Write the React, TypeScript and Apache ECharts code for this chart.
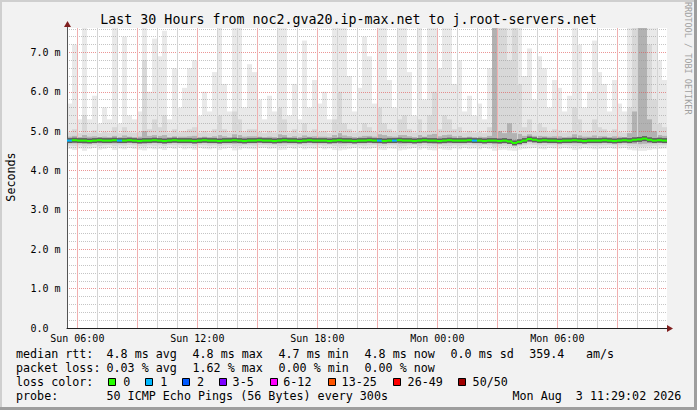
import React, { useEffect, useRef } from 'react';
import * as echarts from 'echarts';

const TITLE = 'Last 30 Hours from noc2.gva20.ip-max.net to j.root-servers.net';
const Y_AXIS_NAME = 'Seconds';
const WATERMARK = 'RRDTOOL / TOBI OETIKER';

// time axis in hours since Sun 00:00
const START_HOUR = 5 + 29 / 60 + 2 / 3600;
const SPAN_HOURS = 30;
const BIN_HOURS = 0.25;
const Y_MAX = 7.62;

const xTickHours = [6, 12, 18, 24, 30];
const xTickLabels = ['Sun 06:00', 'Sun 12:00', 'Sun 18:00', 'Mon 00:00', 'Mon 06:00'];
const majorGridHours = [6, 9, 12, 15, 18, 21, 24, 27, 30, 33];
const minorGridHours = [7, 8, 10, 11, 13, 14, 16, 17, 19, 20, 22, 23, 25, 26, 28, 29, 31, 32, 34, 35];
const yTickValues = [0, 1, 2, 3, 4, 5, 6, 7];
const yTickLabels = ['0.0', '1.0 m', '2.0 m', '3.0 m', '4.0 m', '5.0 m', '6.0 m', '7.0 m'];

// smoke: per 15-minute bin, in ms
const rttMax = [
  5.70, 7.20, 5.30, 7.62, 5.30, 5.90, 5.20, 5.60, 5.30, 7.62,
  5.20, 7.40, 5.40, 5.30, 5.50, 7.62, 6.00, 7.35, 6.90, 7.55,
  5.30, 6.60, 5.60, 6.10, 6.60, 6.80, 5.40, 6.00, 5.50, 6.50,
  7.62, 6.20, 5.50, 7.62, 7.62, 5.60, 6.70, 6.50, 5.80, 5.30,
  5.90, 5.50, 7.62, 7.62, 5.40, 6.20, 5.30, 7.30, 5.60, 6.30,
  5.70, 6.00, 5.30, 7.62, 7.62, 7.62, 6.40, 5.50, 6.10, 7.40,
  6.90, 5.70, 7.62, 7.62, 6.30, 5.60, 7.62, 7.62, 6.50, 5.40,
  7.62, 5.80, 7.62, 7.62, 6.60, 7.62, 7.62, 6.20, 6.80, 5.50,
  5.90, 5.40, 5.70, 5.30, 6.60, 7.62, 7.62, 7.62, 7.62, 7.62,
  7.62, 6.40, 7.10, 5.80, 6.90, 6.60, 5.60, 6.30, 6.10, 5.50,
  5.90, 7.62, 7.20, 5.60, 6.00, 7.30, 6.50, 6.20, 5.50, 6.30,
  5.70, 5.50, 7.62, 7.62, 7.62, 7.62, 7.62, 7.62, 6.80, 6.30,
];
const rttP90 = [
  4.97, 5.05, 4.95, 5.40, 4.96, 5.02, 4.95, 4.98, 4.96, 5.10,
  4.95, 5.10, 4.97, 4.96, 4.98, 6.80, 5.05, 5.30, 5.10, 5.40,
  4.96, 5.05, 4.97, 5.00, 5.05, 5.10, 4.96, 5.00, 4.96, 5.05,
  5.40, 5.05, 4.96, 5.50, 5.30, 4.97, 5.05, 5.05, 4.98, 4.95,
  5.00, 4.96, 5.60, 5.30, 4.96, 5.05, 4.95, 5.20, 4.97, 5.05,
  4.98, 5.00, 4.95, 5.30, 6.00, 5.20, 5.05, 4.96, 5.00, 5.20,
  5.10, 4.98, 5.60, 5.20, 5.05, 4.97, 5.30, 5.40, 5.05, 4.96,
  5.30, 4.98, 5.40, 6.00, 5.05, 5.40, 5.30, 5.05, 5.10, 4.96,
  5.00, 4.96, 4.98, 4.95, 5.10, 7.62, 7.62, 7.62, 6.80, 7.62,
  6.20, 5.10, 5.30, 4.99, 5.20, 5.10, 4.97, 5.05, 5.02, 4.96,
  5.00, 5.60, 5.30, 4.97, 5.00, 5.30, 5.10, 5.05, 4.96, 5.05,
  4.98, 4.96, 5.60, 7.62, 7.62, 7.62, 7.20, 5.80, 5.20, 5.10,
];
const rttP75 = [
  4.86, 4.88, 4.85, 4.90, 4.86, 4.87, 4.85, 4.86, 4.85, 4.88,
  4.85, 4.89, 4.86, 4.85, 4.86, 5.00, 4.88, 4.90, 4.88, 4.90,
  4.85, 4.87, 4.86, 4.86, 4.87, 4.88, 4.85, 4.86, 4.85, 4.87,
  4.90, 4.87, 4.85, 4.92, 4.90, 4.86, 4.87, 4.87, 4.86, 4.85,
  4.86, 4.85, 4.92, 4.90, 4.85, 4.87, 4.85, 4.89, 4.86, 4.87,
  4.86, 4.86, 4.85, 4.90, 4.95, 4.89, 4.87, 4.85, 4.86, 4.88,
  4.88, 4.86, 4.92, 4.90, 4.87, 4.86, 4.90, 4.90, 4.87, 4.85,
  4.90, 4.86, 4.91, 4.93, 4.87, 4.90, 4.91, 4.87, 4.88, 4.85,
  4.86, 4.85, 4.86, 4.85, 4.88, 7.62, 5.00, 4.95, 5.20, 4.95,
  4.93, 4.88, 4.92, 4.88, 4.88, 4.87, 4.86, 4.87, 4.87, 4.85,
  4.86, 4.92, 4.89, 4.86, 4.86, 4.89, 4.87, 4.87, 4.85, 4.87,
  4.86, 4.85, 4.95, 5.50, 7.62, 7.62, 5.30, 5.00, 4.90, 4.88,
];
const rttP25 = [
  4.70, 4.69, 4.70, 4.68, 4.70, 4.71, 4.69, 4.70, 4.71, 4.69,
  4.70, 4.70, 4.71, 4.70, 4.69, 4.68, 4.70, 4.70, 4.70, 4.69,
  4.71, 4.70, 4.71, 4.70, 4.70, 4.69, 4.71, 4.70, 4.70, 4.70,
  4.69, 4.70, 4.71, 4.68, 4.69, 4.70, 4.70, 4.70, 4.71, 4.71,
  4.70, 4.70, 4.69, 4.69, 4.71, 4.70, 4.71, 4.70, 4.70, 4.70,
  4.71, 4.70, 4.70, 4.69, 4.68, 4.69, 4.70, 4.71, 4.70, 4.70,
  4.70, 4.71, 4.69, 4.69, 4.70, 4.70, 4.68, 4.69, 4.70, 4.71,
  4.69, 4.70, 4.69, 4.68, 4.70, 4.69, 4.69, 4.70, 4.70, 4.71,
  4.70, 4.70, 4.70, 4.71, 4.70, 4.67, 4.68, 4.69, 4.68, 4.66,
  4.68, 4.70, 4.72, 4.71, 4.70, 4.70, 4.71, 4.70, 4.70, 4.71,
  4.70, 4.69, 4.70, 4.71, 4.70, 4.70, 4.70, 4.70, 4.71, 4.70,
  4.70, 4.71, 4.69, 4.68, 4.67, 4.68, 4.69, 4.70, 4.70, 4.70,
];
const rttP10 = [
  4.63, 4.62, 4.64, 4.61, 4.63, 4.65, 4.62, 4.64, 4.65, 4.62,
  4.64, 4.63, 4.65, 4.64, 4.62, 4.61, 4.64, 4.63, 4.64, 4.62,
  4.65, 4.64, 4.65, 4.63, 4.64, 4.62, 4.65, 4.64, 4.63, 4.64,
  4.62, 4.64, 4.65, 4.61, 4.62, 4.64, 4.64, 4.63, 4.65, 4.65,
  4.64, 4.64, 4.62, 4.62, 4.65, 4.64, 4.65, 4.63, 4.64, 4.64,
  4.65, 4.63, 4.64, 4.62, 4.61, 4.62, 4.64, 4.65, 4.64, 4.63,
  4.64, 4.65, 4.62, 4.62, 4.64, 4.64, 4.61, 4.62, 4.64, 4.65,
  4.62, 4.64, 4.62, 4.61, 4.64, 4.62, 4.62, 4.64, 4.63, 4.65,
  4.64, 4.64, 4.63, 4.65, 4.64, 4.60, 4.61, 4.62, 4.61, 4.60,
  4.62, 4.64, 4.66, 4.65, 4.64, 4.63, 4.65, 4.64, 4.64, 4.65,
  4.64, 4.62, 4.63, 4.65, 4.64, 4.63, 4.64, 4.64, 4.65, 4.64,
  4.64, 4.65, 4.62, 4.61, 4.60, 4.60, 4.61, 4.63, 4.64, 4.64,
];
const rttMin = [
  4.55, 4.52, 4.56, 4.50, 4.55, 4.57, 4.53, 4.55, 4.58, 4.52,
  4.56, 4.54, 4.57, 4.55, 4.53, 4.51, 4.56, 4.54, 4.55, 4.52,
  4.57, 4.55, 4.58, 4.54, 4.56, 4.53, 4.57, 4.55, 4.54, 4.56,
  4.52, 4.55, 4.57, 4.51, 4.53, 4.56, 4.55, 4.54, 4.57, 4.58,
  4.55, 4.56, 4.52, 4.53, 4.57, 4.55, 4.58, 4.54, 4.56, 4.55,
  4.57, 4.54, 4.56, 4.52, 4.51, 4.53, 4.55, 4.57, 4.56, 4.54,
  4.55, 4.57, 4.53, 4.52, 4.56, 4.55, 4.51, 4.53, 4.55, 4.57,
  4.53, 4.56, 4.52, 4.51, 4.55, 4.53, 4.52, 4.56, 4.54, 4.57,
  4.55, 4.56, 4.54, 4.57, 4.55, 4.50, 4.52, 4.53, 4.51, 4.50,
  4.53, 4.55, 4.56, 4.57, 4.55, 4.54, 4.57, 4.56, 4.55, 4.57,
  4.56, 4.52, 4.54, 4.57, 4.56, 4.54, 4.55, 4.56, 4.57, 4.55,
  4.56, 4.57, 4.53, 4.51, 4.50, 4.50, 4.52, 4.54, 4.55, 4.56,
];
const rttMedian = [
  4.76, 4.77, 4.76, 4.76, 4.75, 4.76, 4.77, 4.76, 4.76, 4.77,
  4.76, 4.76, 4.77, 4.76, 4.75, 4.76, 4.76, 4.77, 4.76, 4.75,
  4.76, 4.77, 4.76, 4.76, 4.76, 4.75, 4.76, 4.77, 4.76, 4.76,
  4.75, 4.76, 4.76, 4.77, 4.76, 4.75, 4.76, 4.76, 4.77, 4.76,
  4.76, 4.75, 4.76, 4.77, 4.76, 4.76, 4.75, 4.76, 4.77, 4.76,
  4.76, 4.76, 4.75, 4.76, 4.77, 4.76, 4.76, 4.75, 4.76, 4.76,
  4.77, 4.76, 4.76, 4.75, 4.76, 4.76, 4.77, 4.76, 4.76, 4.75,
  4.76, 4.77, 4.76, 4.76, 4.75, 4.76, 4.77, 4.76, 4.76, 4.76,
  4.77, 4.76, 4.76, 4.75, 4.76, 4.76, 4.75, 4.76, 4.74, 4.70,
  4.73, 4.76, 4.80, 4.78, 4.76, 4.77, 4.76, 4.76, 4.75, 4.76,
  4.76, 4.77, 4.76, 4.75, 4.76, 4.76, 4.76, 4.77, 4.76, 4.75,
  4.76, 4.77, 4.76, 4.78, 4.79, 4.81, 4.78, 4.76, 4.77, 4.76,
];
// lost pings (of 50) per bin
const lossCount = [
  1, 0, 0, 0, 0, 0, 0, 0, 0, 0,
  1, 0, 0, 0, 0, 0, 0, 0, 0, 0,
  0, 0, 0, 0, 0, 0, 0, 0, 0, 0,
  0, 0, 0, 0, 0, 0, 0, 0, 0, 0,
  0, 0, 0, 0, 0, 0, 0, 0, 0, 0,
  0, 0, 0, 0, 0, 0, 0, 0, 0, 0,
  0, 0, 1, 0, 0, 1, 0, 0, 0, 0,
  0, 0, 0, 0, 0, 0, 0, 0, 0, 0,
  0, 1, 0, 0, 0, 0, 0, 0, 0, 0,
  0, 0, 0, 0, 0, 0, 0, 0, 0, 0,
  0, 0, 0, 0, 0, 0, 0, 0, 0, 0,
  0, 0, 0, 0, 0, 0, 0, 0, 0, 0,
];

const lossLabels = ['0', '1', '2', '3-5', '6-12', '13-25', '26-49', '50/50'];
const lossLower = [0, 1, 2, 3, 6, 13, 26, 50];
const lossColors = ['#26ff00', '#00b8ff', '#0059ff', '#7e00ff', '#ff00ff', '#ff5500', '#ff0000', '#a10000'];

const rttStats = ['4.8 ms avg', '4.8 ms max', '4.7 ms min', '4.8 ms now', '0.0 ms sd'];
const amsValue = '359.4';
const amsUnit = 'am/s';
const lossStats = ['0.03 % avg', '1.62 % max', '0.00 % min', '0.00 % now'];
const probeText = '50 ICMP Echo Pings (56 Bytes) every 300s';
const dateText = 'Mon Aug\u00a0\u00a03 11:29:02 2026';

const MONO = '"DejaVu Sans Mono", "Liberation Mono", monospace';
const MAJOR_GRID = 'rgba(222,79,79,0.6)';
const MINOR_GRID = 'rgba(150,150,150,0.55)';
const MAJOR_V = '#f0b0b0';
const MINOR_V = '#d4d4d4';

function lossColor(n: number) {
  let k = 0;
  for (let i = 0; i < lossLower.length; i++) if (n >= lossLower[i]) k = i;
  return lossColors[k];
}

function smokeSeries(lo: number[], hi: number[], color: string) {
  return {
    type: 'custom',
    z: 2,
    silent: true,
    clip: true,
    data: lo.map((l, i) => [START_HOUR + i * BIN_HOURS, l, hi[i]]),
    encode: { x: 0, y: [1, 2] },
    renderItem: (params: any, api: any) => {
      const t = api.value(0);
      const a = api.coord([t, api.value(2)]);
      const b = api.coord([t + BIN_HOURS, api.value(1)]);
      return {
        type: 'rect',
        shape: { x: a[0], y: a[1], width: b[0] - a[0], height: b[1] - a[1] },
        style: { fill: color },
      };
    },
  };
}

function vGridRect(api: any, h: number, color: string) {
  const top = api.coord([h, Y_MAX]);
  const bot = api.coord([h, 0]);
  return {
    type: 'rect',
    shape: { x: Math.round(top[0] - 0.5), y: top[1], width: 1, height: bot[1] - top[1] },
    style: { fill: color },
  };
}

function medianSeries(halo: boolean) {
  return {
    type: 'custom',
    z: halo ? 5 : 6,
    silent: true,
    data: rttMedian.map((m, i) => [START_HOUR + i * BIN_HOURS, m, lossCount[i], i > 0 ? rttMedian[i - 1] : m]),
    encode: { x: 0, y: 1 },
    renderItem: (params: any, api: any) => {
      const t = api.value(0);
      const m = api.value(1);
      const a = api.coord([t, m]);
      const b = api.coord([t + BIN_HOURS, m]);
      const p = api.coord([t, api.value(3)]);
      const color = halo ? '#5e5e5e' : lossColor(api.value(2));
      const w = halo ? 5 : 2;
      const children: any[] = [];
      if (halo && params.dataIndex === 0) {
        minorGridHours.forEach((h) => children.push(vGridRect(api, h, MINOR_V)));
        majorGridHours.forEach((h) => children.push(vGridRect(api, h, MAJOR_V)));
      }
      children.push(
        { type: 'line', shape: { x1: a[0], y1: a[1], x2: b[0], y2: b[1] }, style: { stroke: color, lineWidth: w } },
        { type: 'line', shape: { x1: a[0], y1: p[1], x2: a[0], y2: a[1] }, style: { stroke: color, lineWidth: w } },
      );
      return { type: 'group', children };
    },
  };
}

function txt(text: string, x: number, y: number, size: number, extra: any = {}) {
  return {
    type: 'text',
    x,
    y,
    silent: true,
    rotation: extra.rotation || 0,
    style: {
      text,
      fill: extra.fill || '#000',
      fontFamily: MONO,
      fontSize: size,
      align: extra.align || 'left',
      verticalAlign: 'middle',
    },
  };
}

export default function App() {
  const ref = useRef<HTMLDivElement>(null);

  useEffect(() => {
    if (!ref.current) return;
    const chart = echarts.init(ref.current, undefined, { renderer: 'svg' });

    const LEG = 11.7;
    const lineY = [353.6, 367.6, 381.6, 395.6];
    const colX = (k: number) => 106.5 + 86 * k;
    const swatchX = [108.5, 145.5, 182.5, 219.5, 270.5, 328.5, 393.5, 458.5];
    const swatchTextX = [123.3, 160.3, 197, 232.6, 283.3, 341.6, 407.6, 472.6];

    const graphics: any[] = [
      { type: 'rect', silent: true, shape: { x: 0, y: 0, width: 697, height: 2 }, style: { fill: '#cfcfcf' } },
      { type: 'rect', silent: true, shape: { x: 0, y: 0, width: 2, height: 410 }, style: { fill: '#cfcfcf' } },
      { type: 'rect', silent: true, shape: { x: 694, y: 0, width: 3, height: 410 }, style: { fill: '#9e9e9e' } },
      { type: 'rect', silent: true, shape: { x: 0, y: 407, width: 697, height: 3 }, style: { fill: '#9e9e9e' } },
      { type: 'line', silent: true, shape: { x1: 67.5, y1: 28, x2: 67.5, y2: 24 }, style: { stroke: '#555', lineWidth: 1 } },
      { type: 'polygon', silent: true, shape: { points: [[64, 27], [71, 27], [67.5, 21]] }, style: { fill: '#801f1f' } },
      { type: 'polygon', silent: true, shape: { points: [[667, 325], [667, 332], [673, 328.5]] }, style: { fill: '#801f1f' } },
      txt(TITLE, 348.5, 19.4, 13.3, { align: 'center' }),
      txt(Y_AXIS_NAME, 11, 177, LEG, { align: 'center', rotation: Math.PI / 2 }),
      txt(WATERMARK, 687.5, 58.3, 8.5, { align: 'center', rotation: -Math.PI / 2, fill: '#a0a0a0' }),
      txt('median rtt:', 16, lineY[0], LEG),
      ...rttStats.map((s, k) => txt(s, colX(k), lineY[0], LEG)),
      txt(amsValue, 529.2, lineY[0], LEG),
      txt(amsUnit, 585.9, lineY[0], LEG),
      txt('packet loss:', 16, lineY[1], LEG),
      ...lossStats.map((s, k) => txt(s, colX(k), lineY[1], LEG)),
      txt('loss color:', 16, lineY[2], LEG),
      ...lossLabels.map((s, k) => txt(s, swatchTextX[k], lineY[2], LEG)),
      ...lossColors.map((c, k) => ({
        type: 'rect',
        silent: true,
        shape: { x: swatchX[k], y: 378.5, width: 7, height: 7 },
        style: { fill: c, stroke: '#000', lineWidth: 1 },
      })),
      txt('probe:', 16, lineY[3], LEG),
      txt(probeText, colX(0), lineY[3], LEG),
      txt(dateText, 512.5, lineY[3], LEG),
    ];

    chart.setOption({
      animation: false,
      backgroundColor: '#f2f2f2',
      textStyle: { fontFamily: MONO },
      grid: {
        left: 67,
        right: 30,
        top: 28,
        bottom: 82,
        show: true,
        backgroundColor: '#ffffff',
        borderWidth: 0,
      },
      xAxis: {
        type: 'value',
        min: START_HOUR,
        max: START_HOUR + SPAN_HOURS,
        z: 3,
        axisLine: { show: true, lineStyle: { color: '#1f1f1f', width: 1 } },
        axisTick: { show: false },
        splitLine: { show: false },
        axisLabel: {
          customValues: xTickHours,
          formatter: (v: number) => {
            const k = xTickHours.indexOf(Math.round(v));
            return k >= 0 ? xTickLabels[k] : '';
          },
          color: '#000',
          fontFamily: MONO,
          fontSize: 10,
          margin: 5,
        },
      },
      yAxis: {
        type: 'value',
        min: 0,
        max: Y_MAX,
        interval: 1,
        z: 3,
        axisLine: { show: true, lineStyle: { color: '#555', width: 1 } },
        axisTick: { show: false },
        minorTick: { show: false, splitNumber: 5 },
        splitLine: {
          show: true,
          showMinLine: false,
          showMaxLine: false,
          lineStyle: { color: MAJOR_GRID, width: 1, type: [1, 1] },
        },
        minorSplitLine: {
          show: true,
          lineStyle: { color: MINOR_GRID, width: 1, type: [1, 1] },
        },
        axisLabel: {
          showMaxLabel: false,
          align: 'left',
          margin: 36.5,
          formatter: (v: number) => {
            const k = yTickValues.indexOf(Math.round(v * 100) / 100);
            return k >= 0 ? yTickLabels[k] : '';
          },
          color: '#000',
          fontFamily: MONO,
          fontSize: 10,
        },
      },
      series: [
        smokeSeries(rttMin, rttMax, '#e9e9e9'),
        smokeSeries(rttP10, rttP90, '#d8d8d8'),
        smokeSeries(rttP25, rttP75, '#b2b2b2'),
        medianSeries(true),
        medianSeries(false),
      ],
      graphic: graphics,
    });

    // second pass: hour grid as graphic rects placed through the chart's scales
    const vLines: any[] = [];
    const addLine = (h: number, color: string) => {
      const top = chart.convertToPixel({ gridIndex: 0 }, [h, Y_MAX]) as any;
      const bot = chart.convertToPixel({ gridIndex: 0 }, [h, 0]) as any;
      if (!top || !bot || !isFinite(top[0])) return;
      vLines.push({
        type: 'rect',
        silent: true,
        z: 4,
        shape: { x: Math.round(top[0] - 0.5), y: top[1], width: 1, height: bot[1] - top[1] },
        style: { fill: color },
      });
    };
    minorGridHours.forEach((h) => addLine(h, MINOR_V));
    majorGridHours.forEach((h) => addLine(h, MAJOR_V));
    chart.setOption({ graphic: [...graphics, ...vLines] });

    return () => chart.dispose();
  }, []);

  return <div ref={ref} style={{ position: 'fixed', left: 0, top: 0, width: 697, height: 410 }} />;
}
